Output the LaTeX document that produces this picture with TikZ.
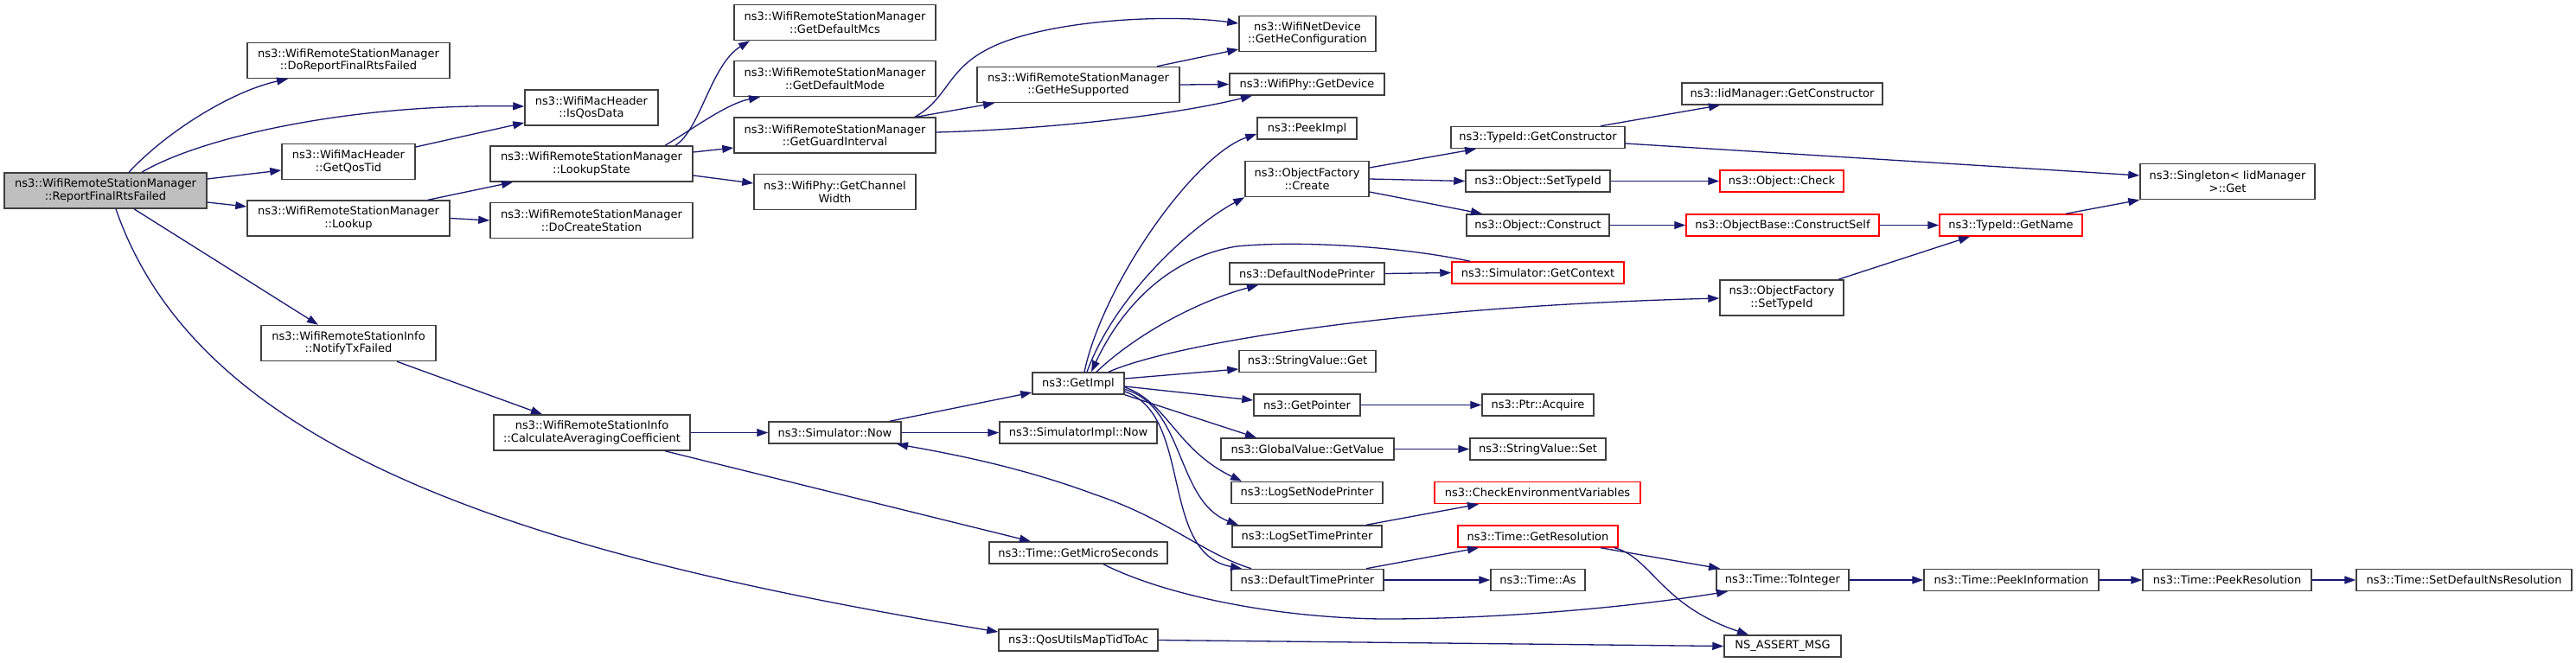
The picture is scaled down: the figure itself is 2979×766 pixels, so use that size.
\documentclass[tikz,border=0pt]{standalone}
\usepackage{fontspec}
\setmainfont{DejaVu Sans}
\usetikzlibrary{arrows.meta,calc}
\definecolor{edgeblue}{RGB}{25,25,112}
\definecolor{boxgray}{RGB}{64,64,64}
\definecolor{mainfill}{RGB}{191,191,191}
\begin{document}
\begin{tikzpicture}[x=1pt,y=1pt,
  box/.style={draw=boxgray, line width=1.5pt, fill=white, inner sep=0pt, align=center, font=\fontsize{13}{14.5}\selectfont},
  hl/.style={box, fill=mainfill},
  trunc/.style={box, draw=red},
  one/.style={minimum height=25pt},
  two/.style={minimum height=41pt},
  call/.style={draw=edgeblue, line width=1.3pt, -{Triangle[length=13pt,width=9pt]}}
]
\useasboundingbox (0,0) rectangle (2979,-766);
\fill[white] (0,0) rectangle (2979,-766);

% nodes
\node[hl,two,minimum width=234pt] (main) at (122,-220.5) {ns3::WifiRemoteStationManager\\::ReportFinalRtsFailed};
\node[box,two,minimum width=234pt] (doRep) at (403,-70) {ns3::WifiRemoteStationManager\\::DoReportFinalRtsFailed};
\node[box,two,minimum width=154pt] (isQos) at (684,-124.5) {ns3::WifiMacHeader\\::IsQosData};
\node[box,two,minimum width=154pt] (getQos) at (403,-187) {ns3::WifiMacHeader\\::GetQosTid};
\node[box,two,minimum width=234pt] (lookup) at (403,-252.5) {ns3::WifiRemoteStationManager\\::Lookup};
\node[box,two,minimum width=234pt] (lookupState) at (684,-189.5) {ns3::WifiRemoteStationManager\\::LookupState};
\node[box,two,minimum width=234pt] (doCreate) at (684,-255) {ns3::WifiRemoteStationManager\\::DoCreateStation};
\node[box,two,minimum width=202pt] (notify) at (403,-397) {ns3::WifiRemoteStationInfo\\::NotifyTxFailed};
\node[box,two,minimum width=227pt] (calc) at (684.5,-500.5) {ns3::WifiRemoteStationInfo\\::CalculateAveragingCoefficient};
\node[box,two,minimum width=233pt] (defMcs) at (965.5,-26) {ns3::WifiRemoteStationManager\\::GetDefaultMcs};
\node[box,two,minimum width=233pt] (defMode) at (965.5,-91) {ns3::WifiRemoteStationManager\\::GetDefaultMode};
\node[box,two,minimum width=233pt] (guard) at (965.5,-156.5) {ns3::WifiRemoteStationManager\\::GetGuardInterval};
\node[box,two,minimum width=187pt] (chanW) at (965.5,-222) {ns3::WifiPhy::GetChannel\\Width};
\node[box,two,minimum width=234pt] (heSup) at (1247,-98) {ns3::WifiRemoteStationManager\\::GetHeSupported};
\node[box,two,minimum width=158pt] (heConf) at (1512,-39) {ns3::WifiNetDevice\\::GetHeConfiguration};
\node[box,one,minimum width=179pt] (getDev) at (1511.5,-97.5) {ns3::WifiPhy::GetDevice};
\node[box,one,minimum width=115pt] (peekImpl) at (1511.5,-148.5) {ns3::PeekImpl};
\node[box,two,minimum width=143pt] (create) at (1511.5,-207) {ns3::ObjectFactory\\::Create};
\node[box,one,minimum width=179pt] (defNode) at (1511.5,-316.5) {ns3::DefaultNodePrinter};
\node[box,one,minimum width=106pt] (getImpl) at (1247,-443.5) {ns3::GetImpl};
\node[box,one,minimum width=153pt] (simNow) at (965.5,-500.5) {ns3::Simulator::Now};
\node[box,one,minimum width=182pt] (simImplNow) at (1247,-500.5) {ns3::SimulatorImpl::Now};
\node[box,one,minimum width=206pt] (micro) at (1247,-639.5) {ns3::Time::GetMicroSeconds};
\node[box,one,minimum width=184pt] (qos) at (1247,-740.5) {ns3::QosUtilsMapTidToAc};
\node[box,one,minimum width=158pt] (strGet) at (1512,-418) {ns3::StringValue::Get};
\node[box,one,minimum width=123pt] (getPtr) at (1511.5,-468.5) {ns3::GetPointer};
\node[box,one,minimum width=200pt] (gvGet) at (1512,-519.5) {ns3::GlobalValue::GetValue};
\node[box,one,minimum width=175pt] (logNode) at (1511.5,-570) {ns3::LogSetNodePrinter};
\node[box,one,minimum width=173pt] (logTime) at (1511.5,-620.5) {ns3::LogSetTimePrinter};
\node[box,one,minimum width=176pt] (defTime) at (1512,-671) {ns3::DefaultTimePrinter};
\node[box,one,minimum width=232pt] (iidGC) at (2061,-108.5) {ns3::IidManager::GetConstructor};
\node[box,one,minimum width=201pt] (tidGC) at (1778.5,-159) {ns3::TypeId::GetConstructor};
\node[box,one,minimum width=167pt] (objSet) at (1778.5,-209.5) {ns3::Object::SetTypeId};
\node[trunc,one,minimum width=143pt] (objCheck) at (2060.5,-209.5) {ns3::Object::Check};
\node[box,one,minimum width=165pt] (objCons) at (1778.5,-260.5) {ns3::Object::Construct};
\node[trunc,one,minimum width=223pt] (consSelf) at (2061.5,-260.5) {ns3::ObjectBase::ConstructSelf};
\node[trunc,one,minimum width=199pt] (getCtx) at (1778.5,-315.5) {ns3::Simulator::GetContext};
\node[box,two,minimum width=143pt] (ofSet) at (2060.5,-344.5) {ns3::ObjectFactory\\::SetTypeId};
\node[box,one,minimum width=129pt] (acquire) at (1778.5,-468.5) {ns3::Ptr::Acquire};
\node[box,one,minimum width=157pt] (strSet) at (1778.5,-519.5) {ns3::StringValue::Set};
\node[trunc,one,minimum width=238pt] (checkEnv) at (1778,-570) {ns3::CheckEnvironmentVariables};
\node[trunc,one,minimum width=185pt] (getRes) at (1778.5,-620.5) {ns3::Time::GetResolution};
\node[box,one,minimum width=109pt] (timeAs) at (1778.5,-671) {ns3::Time::As};
\node[box,one,minimum width=153pt] (toInt) at (2061.5,-671) {ns3::Time::ToInteger};
\node[box,one,minimum width=135pt] (assert) at (2061.5,-747.5) {NS\_ASSERT\_MSG};
\node[box,two,minimum width=202pt] (singleton) at (2576,-210) {ns3::Singleton< IidManager\\>::Get};
\node[trunc,one,minimum width=165pt] (getName) at (2325.5,-260.5) {ns3::TypeId::GetName};
\node[box,one,minimum width=202pt] (peekInfo) at (2326,-671) {ns3::Time::PeekInformation};
\node[box,one,minimum width=195pt] (peekRes) at (2575.5,-671) {ns3::Time::PeekResolution};
\node[box,one,minimum width=249pt] (setDef) at (2849.5,-671) {ns3::Time::SetDefaultNsResolution};

% edges
\draw[call] ($(main.north)+(27,0)$) .. controls (195,-150) and (270,-105) .. ($(doRep.south)+(-70,0)$);
\draw[call] ($(main.north)+(42,0)$) .. controls (230,-160) and (400,-120) .. ($(isQos.west)+(0,1.5)$);
\draw[call] ($(main.east)+(0,13.5)$) -- ($(getQos.west)+(0,-10)$);
\draw[call] ($(main.east)+(0,-13.5)$) -- ($(lookup.west)+(0,13.5)$);
\draw[call] ($(main.south)+(33,0)$) -- ($(notify.north)+(-35,0)$);
\draw[call] ($(main.south)+(12,0)$) .. controls (230,-520) and (600,-640) .. ($(qos.west)+(0,9.5)$);
\draw[call] ($(getQos.east)+(0,17)$) -- ($(isQos.west)+(0,-17.5)$);
\draw[call] ($(lookup.north)+(92,0)$) -- ($(lookupState.south)+(-91,0)$);
\draw[call] (lookup.east) -- (doCreate.west);
\draw[call] ($(lookupState.north)+(97,0)$) .. controls (810,-150) and (822,-75) .. ($(defMcs.south)+(-98.5,0)$);
\draw[call] ($(lookupState.north)+(85,0)$) .. controls (800,-150) and (840,-120) .. ($(defMode.south)+(-86.5,0)$);
\draw[call] ($(lookupState.east)+(0,13.5)$) -- ($(guard.west)+(0,-14.5)$);
\draw[call] ($(lookupState.east)+(0,-13.5)$) -- ($(chanW.west)+(0,10)$);
\draw[call] ($(guard.north)+(94.5,0)$) -- ($(heSup.south)+(-97,0)$);
\draw[call] ($(guard.north)+(92.5,0)$) .. controls (1095,-115) and (1095,-82) .. (1140,-58) .. controls (1200,-25) and (1340,-15) .. ($(heConf.west)+(0,12)$);
\draw[call] ($(guard.east)+(0,3.5)$) .. controls (1200,-150) and (1350,-135) .. ($(getDev.south)+(-63.5,0)$);
\draw[call] ($(heSup.north)+(91,0)$) -- ($(heConf.west)+(0,-18)$);
\draw[call] (heSup.east) -- (getDev.west);
\draw[call] ($(notify.south)+(56,0)$) -- ($(calc.north)+(-57.5,0)$);
\draw[call] (calc.east) -- (simNow.west);
\draw[call] ($(calc.south)+(84.5,0)$) -- ($(micro.north)+(-55,0)$);
\draw[call] ($(simNow.north)+(63.5,0)$) -- ($(getImpl.west)+(0,-10.5)$);
\draw[call] (simNow.east) -- (simImplNow.west);
\draw[call] ($(getImpl.north)+(7,0)$) .. controls (1275,-330) and (1380,-180) .. ($(peekImpl.west)+(0,-6.5)$);
\draw[call] ($(getImpl.north)+(10,0)$) .. controls (1290,-340) and (1380,-260) .. (create.south west);
\draw[call] ($(getCtx.north)+(-78.5,0)$) .. controls (1620,-285) and (1500,-278) .. (1430,-285) .. controls (1340,-300) and (1290,-370) .. ($(getImpl.north)+(15,0)$);
\draw[call] ($(getImpl.north)+(21,0)$) .. controls (1310,-390) and (1380,-350) .. ($(defNode.south)+(-56.5,0)$);
\draw[call] ($(getImpl.north)+(35,0)$) .. controls (1350,-400) and (1600,-355) .. ($(ofSet.west)+(0,-0.5)$);
\draw[call] ($(getImpl.east)+(0,5.5)$) -- ($(strGet.west)+(0,-9)$);
\draw[call] ($(getImpl.east)+(0,-3.5)$) -- ($(getPtr.west)+(0,5.5)$);
\draw[call] (getImpl.south east) -- ($(gvGet.north)+(-59,0)$);
\draw[call] ($(getImpl.east)+(0,-4.5)$) .. controls (1350,-465) and (1360,-520) .. ($(logNode.north)+(-75.5,0)$);
\draw[call] ($(getImpl.east)+(0,-7)$) .. controls (1370,-470) and (1360,-580) .. ($(logTime.north)+(-79.5,0)$);
\draw[call] ($(getImpl.east)+(0,-9.5)$) .. controls (1380,-480) and (1340,-640) .. ($(defTime.north)+(-76,0)$);
\draw[call] ($(defTime.north)+(-65,0)$) .. controls (1390,-640) and (1350,-600) .. (1266,-572) .. controls (1180,-540) and (1100,-525) .. ($(simNow.south)+(71.5,0)$);
\draw[call] ($(create.east)+(0,13)$) -- ($(tidGC.south)+(-71.5,0)$);
\draw[call] (create.east) -- (objSet.west);
\draw[call] ($(create.east)+(0,-15)$) -- ($(objCons.north)+(-64.5,0)$);
\draw[call] ($(tidGC.north)+(72.5,0)$) -- ($(iidGC.south)+(-72,0)$);
\draw[call] ($(tidGC.east)+(0,-7)$) -- ($(singleton.west)+(0,7)$);
\draw[call] (objSet.east) -- (objCheck.west);
\draw[call] (objCons.east) -- (consSelf.west);
\draw[call] (consSelf.east) -- (getName.west);
\draw[call] ($(ofSet.north)+(65.5,0)$) -- ($(getName.south)+(-47.5,0)$);
\draw[call] ($(getName.north)+(63.5,0)$) -- (singleton.south west);
\draw[call] (defNode.east) -- (getCtx.west);
\draw[call] (getPtr.east) -- (acquire.west);
\draw[call] (gvGet.east) -- (strSet.west);
\draw[call] ($(logTime.north)+(68.5,0)$) -- ($(checkEnv.south)+(-68,0)$);
\draw[call] ($(defTime.north)+(68,0)$) -- ($(getRes.south)+(-68.5,0)$);
\draw[call] (defTime.east) -- (timeAs.west);
\draw[call] ($(getRes.south)+(72.5,0)$) -- ($(toInt.north)+(-72.5,0)$);
\draw[call] ($(getRes.south)+(88.5,0)$) .. controls (1910,-645) and (1920,-700) .. ($(assert.north)+(-39.5,0)$);
\draw[call] ($(micro.south)+(29,0)$) .. controls (1350,-690) and (1480,-715) .. (1600,-716) .. controls (1750,-716) and (1900,-700) .. ($(toInt.south)+(-63.5,0)$);
\draw[call] (qos.east) -- (assert.west);
\draw[call] (toInt.east) -- (peekInfo.west);
\draw[call] (peekInfo.east) -- (peekRes.west);
\draw[call] (peekRes.east) -- (setDef.west);
\end{tikzpicture}
\end{document}
